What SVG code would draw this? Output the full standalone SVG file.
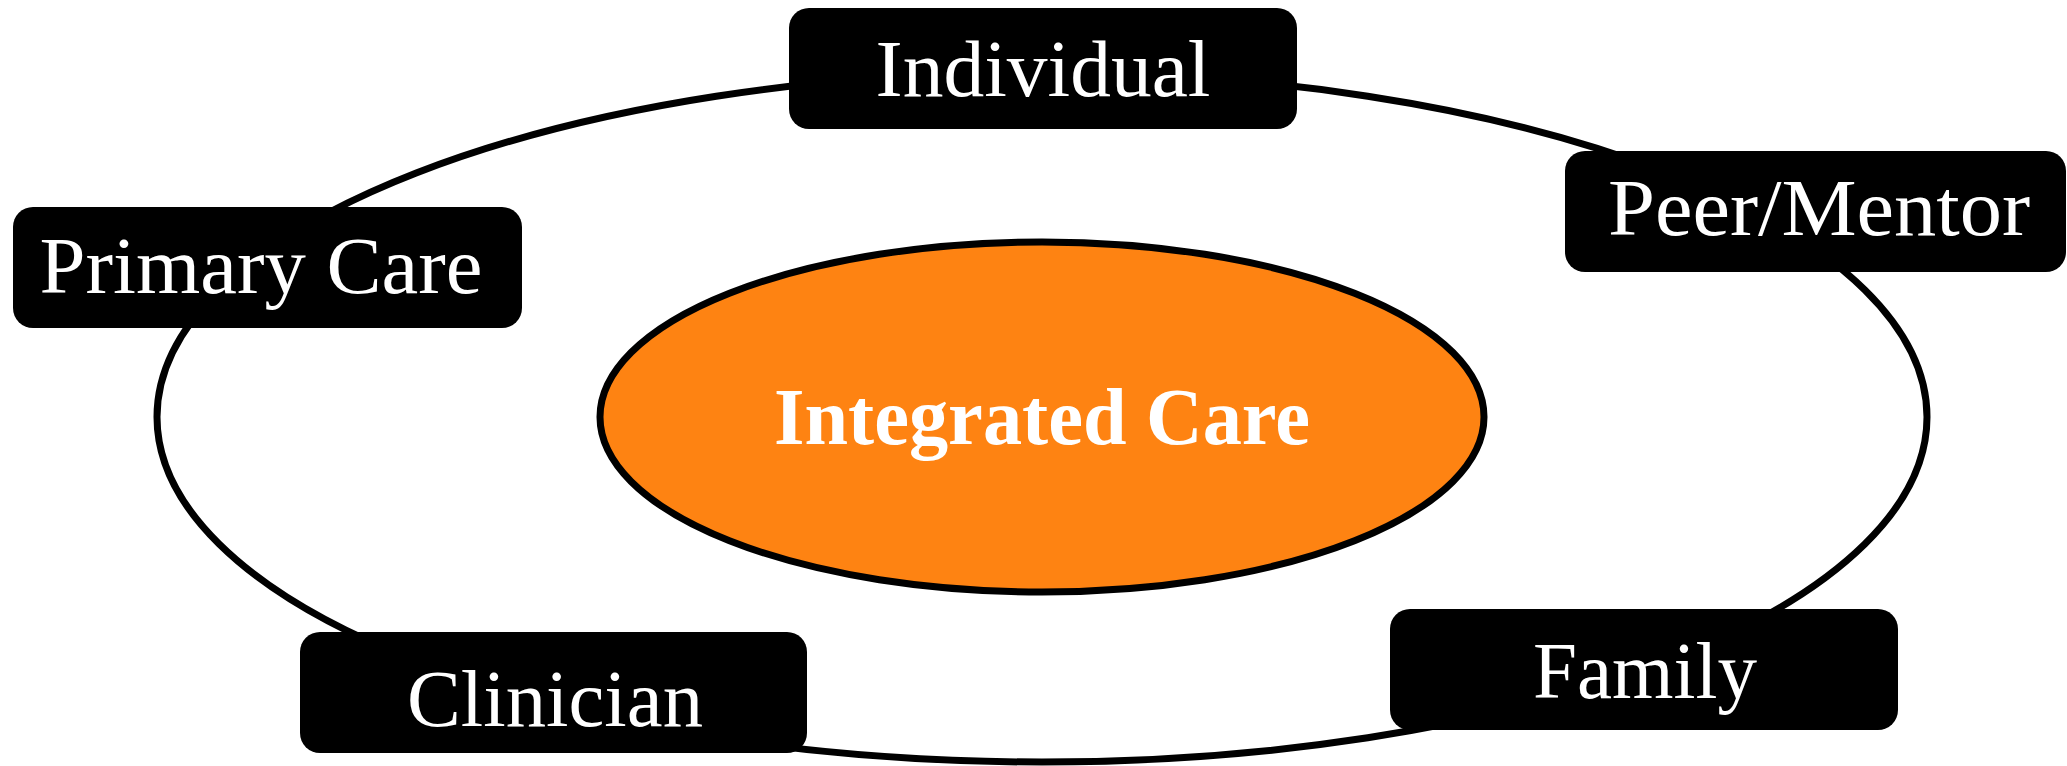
<svg xmlns="http://www.w3.org/2000/svg" width="2067" height="766" viewBox="0 0 2067 766">
<style>
.ring{fill:none;stroke:#000;stroke-width:7}
.box{fill:#000;stroke:none}
.lbl{font-family:"Liberation Serif","DejaVu Serif",serif;font-size:80px;fill:#fff;text-anchor:middle}
.core{fill:#fe8312;stroke:#000;stroke-width:7}
.corelbl{font-family:"Liberation Serif","DejaVu Serif",serif;font-size:80px;font-weight:bold;fill:#fff;text-anchor:middle}
</style>
<rect width="2067" height="766" fill="#fff"/>
<g id="connectors">
<ellipse class="ring" cx="1042" cy="417" rx="885" ry="345"/>
</g>
<g id="integrated-care">
<ellipse class="core" cx="1042" cy="417" rx="442" ry="175"/>
<text class="corelbl" x="1042" y="444" textLength="536" lengthAdjust="spacingAndGlyphs">Integrated Care</text>
</g>
<g id="individual">
<rect class="box" x="789" y="8" width="508" height="121" rx="20"/>
<text class="lbl" x="1043" y="96" textLength="335" lengthAdjust="spacingAndGlyphs">Individual</text>
</g>
<g id="peer-mentor">
<rect class="box" x="1565" y="151" width="501" height="121" rx="20"/>
<text class="lbl" x="1819" y="235" textLength="422" lengthAdjust="spacingAndGlyphs">Peer/Mentor</text>
</g>
<g id="primary-care">
<rect class="box" x="13" y="207" width="509" height="121" rx="20"/>
<text class="lbl" x="261" y="293" textLength="443" lengthAdjust="spacingAndGlyphs">Primary Care</text>
</g>
<g id="clinician">
<rect class="box" x="300" y="632" width="507" height="121" rx="20"/>
<text class="lbl" x="555" y="726" textLength="296" lengthAdjust="spacingAndGlyphs">Clinician</text>
</g>
<g id="family">
<rect class="box" x="1390" y="609" width="508" height="121" rx="20"/>
<text class="lbl" x="1645" y="698" textLength="224" lengthAdjust="spacingAndGlyphs">Family</text>
</g>
</svg>
